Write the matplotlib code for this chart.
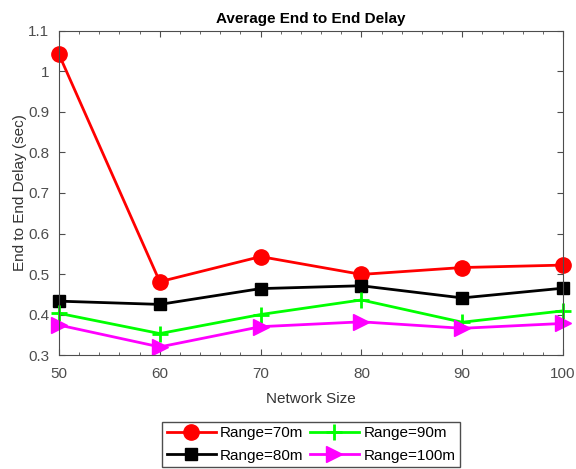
import matplotlib
matplotlib.use("Agg")
import matplotlib.pyplot as plt
from matplotlib.ticker import MultipleLocator

plt.rcParams['font.family'] = ['Liberation Sans', 'DejaVu Sans']

# network sizes on the x axis
network_size = [50, 60, 70, 80, 90, 100]

# delay values (sec)
delay_70m = [1.042, 0.481, 0.543, 0.499, 0.516, 0.522]
delay_80m = [0.433, 0.425, 0.464, 0.471, 0.441, 0.465]
delay_90m = [0.403, 0.353, 0.400, 0.436, 0.381, 0.409]
delay_100m = [0.374, 0.320, 0.370, 0.382, 0.366, 0.378]

fig = plt.figure(figsize=(5.76, 4.69), dpi=100)
ax = fig.add_axes([0.1024, 0.243, 0.8750, 0.691])

l1, = ax.plot(network_size, delay_70m, color='red', lw=2, marker='o', ms=11, label='Range=70m', clip_on=False)
l2, = ax.plot(network_size, delay_80m, color='black', lw=2, marker='s', ms=8, label='Range=80m', clip_on=False)
l3, = ax.plot(network_size, delay_90m, color='#00ff00', lw=2, marker='+', ms=11, mew=2, label='Range=90m', clip_on=False)
l4, = ax.plot(network_size, delay_100m, color='magenta', lw=2, marker='>', ms=12, label='Range=100m', clip_on=False)

ax.set_xlim(50, 100)
ax.set_ylim(0.3, 1.1)
ax.xaxis.set_major_locator(MultipleLocator(10))
ax.xaxis.set_minor_locator(MultipleLocator(2))
ax.yaxis.set_major_locator(MultipleLocator(0.1))
ax.set_yticklabels([f"{v:g}" for v in ax.get_yticks()])

ax.tick_params(which='both', direction='in', top=True, right=True, colors='#4d4d4d', labelsize=11)
ax.tick_params(which='major', length=4)
ax.tick_params(which='minor', length=2)
ax.tick_params(axis='x', which='major', pad=8.5)
ax.tick_params(axis='y', which='major', pad=7)
for s in ax.spines.values():
    s.set_color('#4d4d4d')
    s.set_linewidth(0.8)

ax.set_title("Average End to End Delay", fontsize=11, fontweight='bold', pad=6)
ax.set_xlabel("Network Size", fontsize=11, color='#333333', labelpad=8)
ax.set_ylabel("End to End Delay (sec)", fontsize=11, color='#333333', labelpad=1)

fig.legend([l1, l2, l3, l4], ['Range=70m', 'Range=80m', 'Range=90m', 'Range=100m'],
           ncol=2, loc='lower center', bbox_to_anchor=(0.54, 0.004), borderaxespad=0,
           fontsize=11, fancybox=False, edgecolor='#4d4d4d', framealpha=1, handlelength=3.2,
           columnspacing=0.4, handletextpad=0.3, labelspacing=0.55, borderpad=0.3)

plt.savefig("out.png", dpi=100)
